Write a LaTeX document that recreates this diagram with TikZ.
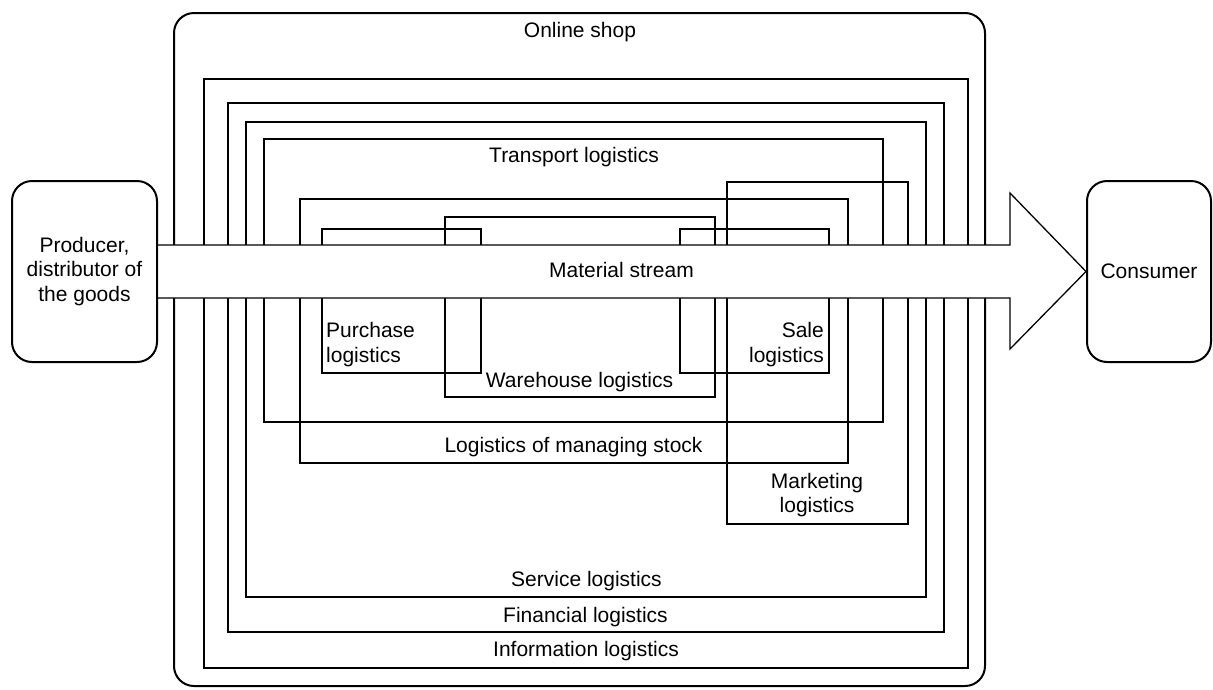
\documentclass[tikz,border=0pt]{standalone}
\usepackage{fontspec}
\setmainfont{Liberation Sans}
\begin{document}
\begin{tikzpicture}[x=1pt,y=-1pt,
  thinbox/.style={line width=1.3pt},
  outerbox/.style={line width=2pt, rounded corners=20pt},
  lbl/.style={inner sep=0pt, font=\fontsize{21}{24.5}\selectfont},
  endbox/.style={draw, line width=2pt, rounded corners=20pt, inner sep=0pt,
     font=\fontsize{21}{24.5}\selectfont, align=center}]
\useasboundingbox[fill=white] (0,0) rectangle (1213,689);

% logistics areas
\draw[thinbox] (204,79) rectangle (968,668);   % information
\draw[thinbox] (228,103) rectangle (944,632);  % financial
\draw[thinbox] (246,122) rectangle (926,597);  % service
\draw[thinbox] (264,139) rectangle (883,422);  % transport
\draw[thinbox] (300,199) rectangle (848,463);  % stock
\draw[thinbox] (727,182) rectangle (908,524);  % marketing
\draw[thinbox] (445,217) rectangle (715,397);  % warehouse
\draw[thinbox] (322,229) rectangle (481,373);  % purchase
\draw[thinbox] (680,229) rectangle (829,373);  % sale

% online shop
\draw[outerbox] (174,13) rectangle (985,686);

% end boxes
\node[endbox, minimum width=145pt, minimum height=181pt] (prod) at (84.5,271.5)
  {Producer,\\distributor of\\the goods};
\node[endbox, minimum width=124pt, minimum height=181pt] (cons) at (1149,271.5)
  {Consumer};

% material stream arrow
\fill[white] (158.5,245) -- (1010,245) -- (1010,193) -- (cons.west) -- (1010,349) -- (1010,298) -- (158.5,298) -- cycle;
\draw[thinbox] (prod.east |- 0,245) -- (1010,245) -- (1010,193) -- (cons.west) -- (1010,349) -- (1010,298) -- (prod.east |- 0,298);

% labels
\node[lbl, anchor=base] (shop) at (580,37) {Online shop};
\node[lbl, anchor=base] (transport) at (574,162) {Transport logistics};
\node[lbl, anchor=base] (stream) at (621.5,277) {Material stream};
\node[lbl, anchor=base] (warehouse) at (579.5,387) {Warehouse logistics};
\node[lbl, anchor=base] (stock) at (573.5,452) {Logistics of managing stock};
\node[lbl, anchor=base] (service) at (586.5,586) {Service logistics};
\node[lbl, anchor=base] (financial) at (585.5,622) {Financial logistics};
\node[lbl, anchor=base] (information) at (586,656) {Information logistics};
\node[lbl, anchor=west, align=left] (purchase) at (326,344.5) {Purchase\\logistics};
\node[lbl, anchor=east, align=right] (sale) at (824,344.5) {Sale\\logistics};
\node[lbl, align=center] (marketing) at (817,495) {Marketing\\logistics};
\end{tikzpicture}
\end{document}
